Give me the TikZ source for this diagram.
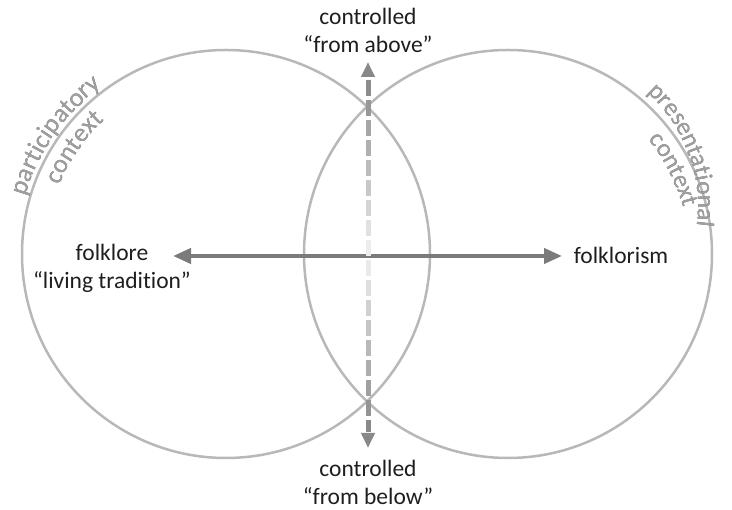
\documentclass[tikz,border=0pt]{standalone}
\usepackage{fontspec}
\setmainfont{Carlito}[Ligatures=NoCommon]
\usetikzlibrary{arrows.meta,decorations.text,calc}

\definecolor{ringgray}{HTML}{B8B8B8}
\definecolor{axisgray}{HTML}{7B7B7B}
\definecolor{dashgray}{HTML}{888888}
\definecolor{arcgray}{HTML}{A0A0A0}
\definecolor{arcshadow}{HTML}{5E5E5E}
\definecolor{labelink}{HTML}{1E1E1E}

\newcommand{\labelfont}{\fontsize{23.5}{28}\selectfont}

\tikzset{
  ring/.style={draw=ringgray, line width=2.5pt},
  axis/.style={draw=axisgray, line width=4pt,
    {Triangle[length=18pt,width=15pt]}-{Triangle[length=18pt,width=15pt]}},
  controltips/.style={tips, color=dashgray, line width=5pt,
    {Triangle[length=15pt,width=13pt]}-{Triangle[length=15pt,width=13pt]}},
  dashpiece/.style={line width=5pt, draw=dashgray!#1!white},
  label/.style={text=labelink, font=\labelfont, align=center, inner sep=0pt},
}

% context name along an arc: soft shadow copy first, then the text itself
% #1 centre, #2 radius, #3 start angle, #4 end angle, #5 font size, #6 text
\newcommand{\arcname}[6]{%
  \path[decorate, opacity=.45, shift={(1.1,-1.2)},
    decoration={text along path, text align=center, text color=arcshadow,
      text={|\fontsize{#5}{30}\selectfont|#6}}]
    (#1) ++(#3:#2) arc[start angle=#3, end angle=#4, radius=#2];
  \path[decorate,
    decoration={text along path, text align=center, text color=arcgray,
      text={|\fontsize{#5}{30}\selectfont|#6}}]
    (#1) ++(#3:#2) arc[start angle=#3, end angle=#4, radius=#2];
}

\begin{document}
\begin{tikzpicture}[x=1pt,y=1pt]
\useasboundingbox (0,0) rectangle (732,510);

% the two overlapping contexts
\coordinate (lc) at (226,256);
\coordinate (rc) at (508,256);
\draw[ring] (lc) circle[radius=204];
\draw[ring] (rc) circle[radius=204];

% labels
\node[label] (above) at (368,480) {controlled\\“from above”};
\node[label] (below) at (368,28) {controlled\\“from below”};
\node[label] (folk) at (112,242) {folklore\\“living tradition”};
\node[label] (folkism) at (621,255) {folklorism};

% horizontal axis
\coordinate (hl) at (173,254);
\coordinate (hr) at (562,254);
\draw[axis] (hl) -- (hr);

% vertical control axis: tips, then dashes that pale towards the middle
\coordinate (vt) at (368,448);
\coordinate (vb) at (368,62);
\path[controltips] (vt) -- (vb);
\foreach \k in {0,...,17}{
  \pgfmathsetmacro\ya{430-20*\k}
  \pgfmathsetmacro\yb{max(78,414-20*\k)}
  \pgfmathtruncatemacro\pct{12+88*min(1,abs((\ya+\yb)/2-255)/172)}
  \pgfmathsetmacro\fa{(448-\ya)/386}
  \pgfmathsetmacro\fb{(448-\yb)/386}
  \draw[dashpiece=\pct] ($(vt)!\fa!(vb)$) -- ($(vt)!\fb!(vb)$);
}

% context names set along arcs
\coordinate (pc) at (546,304);
\arcname{lc}{208.5}{170.2}{120.2}{26}{participatory}
\arcname{lc}{180}{165}{125}{26}{context}
\arcname{pc}{152}{55.35}{-14.65}{25}{presentational}
\arcname{rc}{181}{46.9}{6.9}{25}{context}
\end{tikzpicture}
\end{document}
